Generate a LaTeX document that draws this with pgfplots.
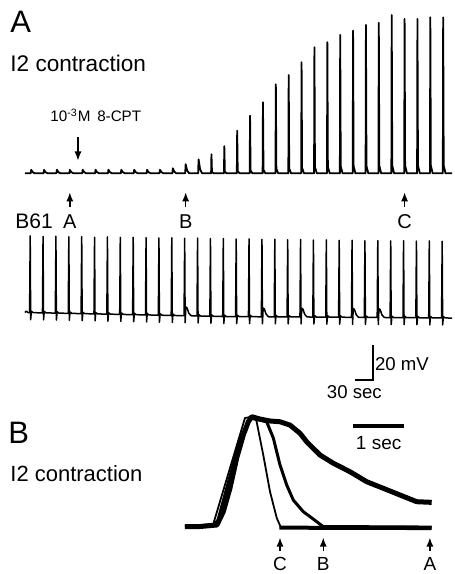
\documentclass[border=0pt]{standalone}
\usepackage{fontspec}
\setmainfont{Liberation Sans}
\usepackage{pgfplots}
\pgfplotsset{compat=1.18}
\usetikzlibrary{arrows.meta}
\tikzset{uparr/.style={-{Latex[length=4.6pt,width=3.6pt]}, line width=0.75pt}}
\begin{document}
\begin{tikzpicture}
\path[use as bounding box] (0,0) rectangle (227.5pt,287pt);
% ---------- Panel A : I2 contraction ----------
\begin{axis}[at={(12.5pt,196.4pt)}, anchor=south west, scale only axis,
  width=213.6pt, height=84.7pt, xmin=0, xmax=724, ymin=-0.05, ymax=1.02,
  hide axis, clip=false]
\addplot[black, line width=0.9pt, line join=round, mark=none] coordinates {
(0,0)
(9.7,0) (10.5,0.022) (13.0,0.007) (16.5,0)
(31.5,0) (32.3,0.022) (34.8,0.007) (38.3,0)
(53.3,0) (54.1,0.022) (56.6,0.007) (60.1,0)
(75.2,0) (76.0,0.022) (78.5,0.007) (82.0,0)
(97.0,0) (97.8,0.022) (100.3,0.007) (103.8,0)
(118.8,0) (119.6,0.022) (122.1,0.007) (125.6,0)
(140.6,0) (141.4,0.022) (143.9,0.007) (147.4,0)
(162.4,0) (163.2,0.022) (165.7,0.007) (169.2,0)
(184.3,0) (185.1,0.022) (187.6,0.007) (191.1,0)
(206.1,0) (206.9,0.022) (209.4,0.007) (212.9,0)
(227.9,0) (228.7,0.022) (231.2,0.007) (234.7,0)
(249.7,0) (250.5,0.032) (253.0,0.010) (256.5,0)
(271.5,0) (272.3,0.057) (274.8,0.017) (278.3,0)
(293.4,0) (294.2,0.088) (296.7,0.026) (300.2,0)
(315.4,0) (316.0,0.120) (316.9,0.006) (320.0,0)
(337.2,0) (337.8,0.171) (338.7,0.009) (341.8,0)
(359.0,0) (359.6,0.269) (360.5,0.013) (363.6,0)
(380.8,0) (381.4,0.364) (382.3,0.018) (385.4,0)
(402.7,0) (403.3,0.449) (404.2,0.022) (407.3,0)
(424.5,0) (425.1,0.562) (426.0,0.028) (429.1,0)
(446.3,0) (446.9,0.621) (447.8,0.031) (450.9,0)
(468.1,0) (468.7,0.701) (469.6,0.035) (472.7,0)
(489.9,0) (490.5,0.796) (491.4,0.040) (494.5,0)
(511.8,0) (512.4,0.828) (513.3,0.041) (516.4,0)
(533.6,0) (534.2,0.874) (535.1,0.044) (538.2,0)
(555.4,0) (556.0,0.901) (556.9,0.045) (560.0,0)
(577.2,0) (577.8,0.937) (578.7,0.047) (581.8,0)
(599.0,0) (599.6,0.951) (600.5,0.048) (603.6,0)
(620.9,0) (621.5,1.000) (622.4,0.050) (625.5,0)
(642.7,0) (643.3,0.975) (644.2,0.049) (647.3,0)
(664.5,0) (665.1,0.975) (666.0,0.049) (669.1,0)
(686.3,0) (686.9,0.985) (687.8,0.049) (690.9,0)
(708.1,0) (708.7,0.985) (709.6,0.049) (712.7,0)
(724,0)};
% drug application arrow
\draw[uparr] (axis cs:89.8,0.229) -- (axis cs:89.8,0.08);
% time markers A, B, C
\draw[uparr] (axis cs:76.0,-0.21) -- (axis cs:76.0,-0.12);
\draw[uparr] (axis cs:272.3,-0.21) -- (axis cs:272.3,-0.12);
\draw[uparr] (axis cs:643.3,-0.21) -- (axis cs:643.3,-0.12);
\node[anchor=base, font=\fontsize{10}{12}\selectfont, inner sep=0pt] at (axis cs:76.0,-0.347) {A};
\node[anchor=base, font=\fontsize{10}{12}\selectfont, inner sep=0pt] at (axis cs:272.3,-0.347) {B};
\node[anchor=base, font=\fontsize{10}{12}\selectfont, inner sep=0pt] at (axis cs:643.3,-0.347) {C};
\end{axis}
% ---------- Panel A : B61 ----------
\begin{axis}[at={(12.5pt,122pt)}, anchor=south west, scale only axis,
  width=213.6pt, height=52.5pt, xmin=0, xmax=724, ymin=-10, ymax=50,
  hide axis, clip=false]
\addplot[black, line width=0.75pt, line join=round, mark=none] coordinates {
(0,0) (2,0.8) (5,0)
(7.8,-0.1) (8.8,43.8) (9.6,-4.1) (10.8,0.7) (13.8,-0.1)
(29.6,-0.2) (30.6,43.5) (31.4,-4.2) (32.6,0.6) (35.6,-0.2)
(51.4,-0.35) (52.4,43.6) (53.2,-4.35) (54.4,0.45) (57.4,-0.35)
(73.3,-0.5) (74.3,43.3) (75.1,-4.5) (76.3,0.3) (79.3,-0.5)
(95.1,-0.65) (96.1,43.4) (96.9,-4.65) (98.1,0.15) (101.1,-0.65)
(116.9,-0.8) (117.9,43.0) (118.7,-4.8) (119.9,0.0) (122.9,-0.8)
(138.7,-0.95) (139.7,43.2) (140.5,-4.95) (141.7,-0.15) (144.7,-0.95)
(160.5,-1.1) (161.5,42.9) (162.3,-5.1) (163.5,-0.3) (166.5,-1.1)
(182.4,-1.25) (183.4,43.0) (184.2,-5.25) (185.4,-0.45) (188.4,-1.25)
(204.2,-1.4) (205.2,42.8) (206.0,-5.4) (207.2,-0.6) (210.2,-1.4)
(226.0,-1.55) (227.0,42.6) (227.8,-5.55) (229.0,-0.75) (232.0,-1.55)
(247.8,-1.7) (248.8,42.7) (249.6,-5.7) (250.8,-0.9) (253.8,-1.7)
(269.6,-1.85) (270.6,42.4) (271.4,-5.85) (272.6,3.15) (274.6,2.65) (277.6,-0.35) (281.6,-1.85)
(291.5,-2.0) (292.5,42.5) (293.3,-6.0) (294.5,-1.2) (297.5,-2.0)
(313.3,-2.15) (314.3,42.2) (315.1,-6.15) (316.3,-1.35) (319.3,-2.15)
(335.1,-2.3) (336.1,42.3) (336.9,-6.3) (338.1,-1.5) (341.1,-2.3)
(356.9,-2.35) (357.9,42.0) (358.7,-6.35) (359.9,-1.55) (362.9,-2.35)
(378.7,-2.4) (379.7,42.1) (380.5,-6.4) (381.7,-1.6) (384.7,-2.4)
(400.6,-2.45) (401.6,41.8) (402.4,-6.45) (403.6,2.55) (405.6,2.05) (408.6,-0.95) (412.6,-2.45)
(422.4,-2.5) (423.4,41.9) (424.2,-6.5) (425.4,-1.7) (428.4,-2.5)
(444.2,-2.5) (445.2,41.6) (446.0,-6.5) (447.2,-1.7) (450.2,-2.5)
(466.0,-2.55) (467.0,41.7) (467.8,-6.55) (469.0,2.45) (471.0,1.95) (474.0,-1.05) (478.0,-2.55)
(487.8,-2.6) (488.8,41.4) (489.6,-6.6) (490.8,-1.8) (493.8,-2.6)
(509.7,-2.65) (510.7,41.5) (511.5,-6.65) (512.7,-1.85) (515.7,-2.65)
(531.5,-2.7) (532.5,41.2) (533.3,-6.7) (534.5,-1.9) (537.5,-2.7)
(553.3,-2.75) (554.3,41.3) (555.1,-6.75) (556.3,2.25) (558.3,1.75) (561.3,-1.25) (565.3,-2.75)
(575.1,-2.8) (576.1,41.0) (576.9,-6.8) (578.1,-2.0) (581.1,-2.8)
(596.9,-2.85) (597.9,41.1) (598.7,-6.85) (599.9,2.15) (601.9,1.65) (604.9,-1.35) (608.9,-2.85)
(618.8,-2.9) (619.8,40.9) (620.6,-6.9) (621.8,-2.1) (624.8,-2.9)
(640.6,-2.95) (641.6,41.0) (642.4,-6.95) (643.6,-2.15) (646.6,-2.95)
(662.4,-3.0) (663.4,40.8) (664.2,-7.0) (665.4,-2.2) (668.4,-3.0)
(684.2,-3.05) (685.2,40.9) (686.0,-7.05) (687.2,-2.25) (690.2,-3.05)
(706.0,-3.1) (707.0,40.7) (707.8,-7.1) (709.0,-2.3) (712.0,-3.1)
(724,-3.2)};
% scale bar 30 s / 20 mV
\draw[line width=0.8pt] (axis cs:559.3,-38.6) -- (axis cs:589.3,-38.6) -- (axis cs:589.3,-18.6);
\node[anchor=base west, font=\fontsize{9.3}{11}\selectfont, inner sep=0pt] at (axis cs:592.5,-32.9) {20 mV};
\node[anchor=base west, font=\fontsize{9.3}{11}\selectfont, inner sep=0pt] at (axis cs:511.0,-48.9) {30 sec};
\end{axis}
% ---------- Panel B ----------
\begin{axis}[at={(92.5pt,18.25pt)}, anchor=south west, scale only axis,
  width=123.35pt, height=63.14pt, xmin=0, xmax=4.866, ymin=-0.1, ymax=1.05,
  hide axis, clip=false]
% trace at time A (thick)
\addplot[black, line width=2.5pt, line join=round, mark=none] coordinates {
(0,0) (0.296,0) (0.63,0.014) (0.755,0.135) (0.888,0.351) (1.02,0.624)
(1.15,0.833) (1.249,0.954) (1.316,1.0) (1.479,0.979) (1.677,0.961)
(1.874,0.954) (2.071,0.924) (2.268,0.849) (2.4,0.772) (2.663,0.651)
(2.919,0.578) (3.254,0.499) (3.584,0.408) (3.911,0.348) (4.24,0.287)
(4.57,0.226) (4.866,0.22)};
% trace at time B (medium)
\addplot[black, line width=1.5pt, line join=round, mark=none] coordinates {
(0,0) (0.572,0.014) (0.651,0.059) (1.085,0.788) (1.282,0.988)
(1.611,0.954) (1.742,0.806) (1.874,0.56) (2.006,0.378) (2.136,0.241)
(2.333,0.135) (2.53,0.068) (2.722,0) (4.866,-0.005)};
% trace at time C (thin)
\addplot[black, line width=0.9pt, line join=round, mark=none] coordinates {
(0,0) (0.558,0.023) (1.183,0.988) (1.316,1.0) (1.40,0.984)
(1.544,0.651) (1.677,0.317) (1.81,0.077) (1.893,-0.01)};
% resting level after relaxation (noisy baseline of traces B and C)
\addplot[black, line width=2pt, mark=none] coordinates {
(1.86,-0.01) (2.8,-0.012) (4.866,-0.014)};
% 1 s scale bar
\draw[line width=2pt] (axis cs:3.317,0.915) -- (axis cs:4.317,0.915);
\node[anchor=base, font=\fontsize{9.5}{11}\selectfont, inner sep=0pt] at (axis cs:3.82,0.697) {1 sec};
% markers
\draw[uparr] (axis cs:1.874,-0.22) -- (axis cs:1.874,-0.1);
\draw[uparr] (axis cs:2.727,-0.22) -- (axis cs:2.727,-0.1);
\draw[uparr] (axis cs:4.83,-0.22) -- (axis cs:4.83,-0.1);
\node[anchor=base, font=\fontsize{9.5}{11}\selectfont, inner sep=0pt] at (axis cs:1.874,-0.396) {C};
\node[anchor=base, font=\fontsize{9.5}{11}\selectfont, inner sep=0pt] at (axis cs:2.727,-0.396) {B};
\node[anchor=base, font=\fontsize{9.5}{11}\selectfont, inner sep=0pt] at (axis cs:4.83,-0.396) {A};
\end{axis}
% ---------- Text labels ----------
\node[anchor=base west, inner sep=0pt, font=\fontsize{15.5}{18}\selectfont] at (5pt,270.5pt) {A};
\node[anchor=base west, inner sep=0pt, font=\fontsize{11.3}{13}\selectfont] at (5pt,251.15pt) {I2 contraction};
\node[anchor=base west, inner sep=0pt, font=\fontsize{7.6}{9}\selectfont] at (25pt,226.15pt) {10\textsuperscript{-3}M\hspace{0.45em}8-CPT};
\node[anchor=base west, inner sep=0pt, font=\fontsize{10.5}{12}\selectfont] at (7.5pt,172.85pt) {B61};
\node[anchor=base west, inner sep=0pt, font=\fontsize{15.5}{18}\selectfont] at (4pt,65.35pt) {B};
\node[anchor=base west, inner sep=0pt, font=\fontsize{11}{13}\selectfont] at (5pt,46.15pt) {I2 contraction};
\end{tikzpicture}
\end{document}
